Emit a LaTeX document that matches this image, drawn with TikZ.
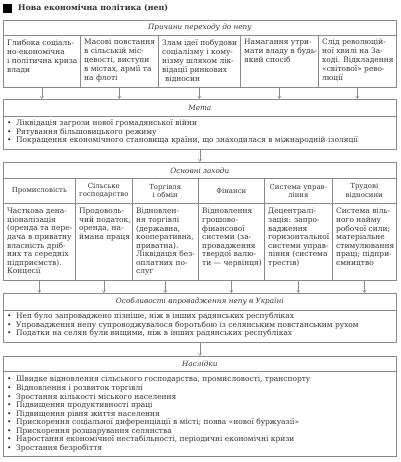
\documentclass[tikz,border=0pt]{standalone}
\usepackage{fontspec}
\setmainfont{DejaVu Serif}
\usetikzlibrary{arrows.meta}
\definecolor{ln}{HTML}{8A8A8A}
\definecolor{tx}{HTML}{333333}
\newcommand\mybul{\makebox[9bp][l]{•}}
\begin{document}
\begin{tikzpicture}[x=1bp,y=-1bp,
  box/.style={draw=ln, line width=0.6bp, inner sep=0, anchor=north west, text=tx},
  hd/.style={box, font=\fontsize{7.3}{8.6}\selectfont\itshape},
  sub/.style={box, align=center, font=\fontsize{7}{8.4}\selectfont},
  tt/.style={font=\fontsize{7.5}{8.6}\selectfont, text=tx, inner sep=0, align=left, anchor=north west, execute at begin node={\rule{0pt}{6bp}}},
  ttw/.style={tt, font=\fontsize{7.5}{9}\selectfont},
  arr/.style={draw=ln, line width=0.5bp, -{Straight Barb[length=2.5bp,width=3.5bp]}}]
\useasboundingbox (0,0) rectangle (400,462);
% title
\node[fill=black, minimum size=9bp, inner sep=0, anchor=north west] (sq) at (3,3.5) {};
\node[anchor=west, inner sep=0, font=\bfseries\fontsize{7.9}{10}\selectfont, text=tx] (title) at (18,8.5) {Нова економічна політика (неп)};
% Причини
\node[hd, minimum width=393bp, minimum height=15bp] (prh) at (3,20) {Причини переходу до непу};
\node[box, minimum width=77bp, minimum height=52bp] (p1) at (3,35) {};
\node[box, minimum width=78bp, minimum height=52bp] (p2) at (80,35) {};
\node[box, minimum width=82bp, minimum height=52bp] (p3) at (158,35) {};
\node[box, minimum width=78bp, minimum height=52bp] (p4) at (240,35) {};
\node[box, minimum width=78bp, minimum height=52bp] (p5) at (318,35) {};
\node[ttw] (pt1) at (7,39.2) {Глибока соціаль-\\но-економічна\\і політична криза\\влади};
\node[ttw] (pt2) at (84,39.2) {Масові повстання\\в сільській міс-\\цевості, виступи\\в містах, армії та\\на флоті};
\node[ttw] (pt3) at (162,39.2) {Злам ідеї побудови\\соціалізму і кому-\\нізму шляхом лік-\\відації ринкових\\\hspace*{3bp}відносин};
\node[ttw] (pt4) at (244,39.2) {Намагання утри-\\мати владу в будь-\\який спосіб};
\node[ttw] (pt5) at (322,39.2) {Слід революцій-\\ної хвилі на За-\\ході. Відкладення\\«світової» рево-\\люції};
% Мета
\node[hd, minimum width=393bp, minimum height=17bp] (mh) at (3,99) {Мета};
\node[box, minimum width=393bp, minimum height=33bp] (mb) at (3,116) {};
\node[tt] (mt) at (7,119.7) {\mybul Ліквідація загрози нової громадянської війни\\\mybul Рятування більшовицького режиму\\\mybul Покращення економічного становища країни, що знаходилася в міжнародній ізоляції};
\foreach \i in {1,...,5} \draw[arr] (p\i.south) -- (p\i.south |- mh.north);
% Основні заходи
\node[hd, minimum width=393bp, minimum height=16bp] (oh) at (3,162) {Основні заходи};
\draw[arr] (mb.south) -- (oh.north);
\node[sub, minimum width=72bp, minimum height=25bp] (s1) at (3,178) {Промисловість};
\node[sub, minimum width=57bp, minimum height=25bp] (s2) at (75,178) {Сільське\\господарство};
\node[sub, minimum width=66bp, minimum height=25bp] (s3) at (132,178) {Торгівля\\і обмін};
\node[sub, minimum width=66bp, minimum height=25bp] (s4) at (198,178) {Фінанси};
\node[sub, minimum width=68bp, minimum height=25bp] (s5) at (264,178) {Система управ-\\ління};
\node[sub, minimum width=64bp, minimum height=25bp] (s6) at (332,178) {Трудові\\відносини};
\node[box, minimum width=72bp, minimum height=77bp] (b1) at (3,203) {};
\node[box, minimum width=57bp, minimum height=77bp] (b2) at (75,203) {};
\node[box, minimum width=66bp, minimum height=77bp] (b3) at (132,203) {};
\node[box, minimum width=66bp, minimum height=77bp] (b4) at (198,203) {};
\node[box, minimum width=68bp, minimum height=77bp] (b5) at (264,203) {};
\node[box, minimum width=64bp, minimum height=77bp] (b6) at (332,203) {};
\node[tt] (bt1) at (7,208.2) {Часткова дена-\\ціоналізація\\(оренда та пере-\\дача в приватну\\власність дріб-\\них та середніх\\підприємств).\\Концесії};
\node[tt] (bt2) at (79,208.2) {Продоволь-\\чий податок,\\оренда, на-\\ймана праця};
\node[tt] (bt3) at (136,208.2) {Відновлен-\\ня торгівлі\\(державна,\\кооперативна,\\приватна).\\Ліквідація без-\\оплатних по-\\слуг};
\node[tt] (bt4) at (202,208.2) {Відновлення\\грошово-\\фінансової\\системи (за-\\провадження\\твердої валю-\\ти — червінця)};
\node[tt] (bt5) at (268,208.2) {Децентралі-\\зація: запро-\\вадження\\горизонтальної\\системи управ-\\ління (система\\трестів)};
\node[tt] (bt6) at (336,208.2) {Система віль-\\ного найму\\робочої сили;\\матеріальне\\стимулювання\\праці; підпри-\\ємництво};
% Особливості
\node[hd, minimum width=393bp, minimum height=17bp] (uh) at (3,293) {Особливості впровадження непу в Україні};
\foreach \i in {1,...,6} \draw[arr] (b\i.south) -- (b\i.south |- uh.north);
\node[box, minimum width=393bp, minimum height=32bp] (ub) at (3,310) {};
\node[tt] (ut) at (7,312.7) {\mybul Неп було запроваджено пізніше, ніж в інших радянських республіках\\\mybul Упровадження непу супроводжувалося боротьбою із селянським повстанським рухом\\\mybul Податки на селян були вищими, ніж в інших радянських республіках};
% Наслідки
\node[hd, minimum width=393bp, minimum height=15bp] (nh) at (3,356) {Наслідки};
\draw[arr] (ub.south) -- (nh.north);
\node[box, minimum width=393bp, minimum height=85bp] (nb) at (3,371) {};
\node[tt] (nt) at (7,376.2) {\mybul Швидке відновлення сільського господарства, промисловості, транспорту\\\mybul Відновлення і розвиток торгівлі\\\mybul Зростання кількості міського населення\\\mybul Підвищення продуктивності праці\\\mybul Підвищення рівня життя населення\\\mybul Прискорення соціальної диференціації в місті; поява «нової буржуазії»\\\mybul Прискорення розшарування селянства\\\mybul Наростання економічної нестабільності, періодичні економічні кризи\\\mybul Зростання безробіття};
\end{tikzpicture}
\end{document}
